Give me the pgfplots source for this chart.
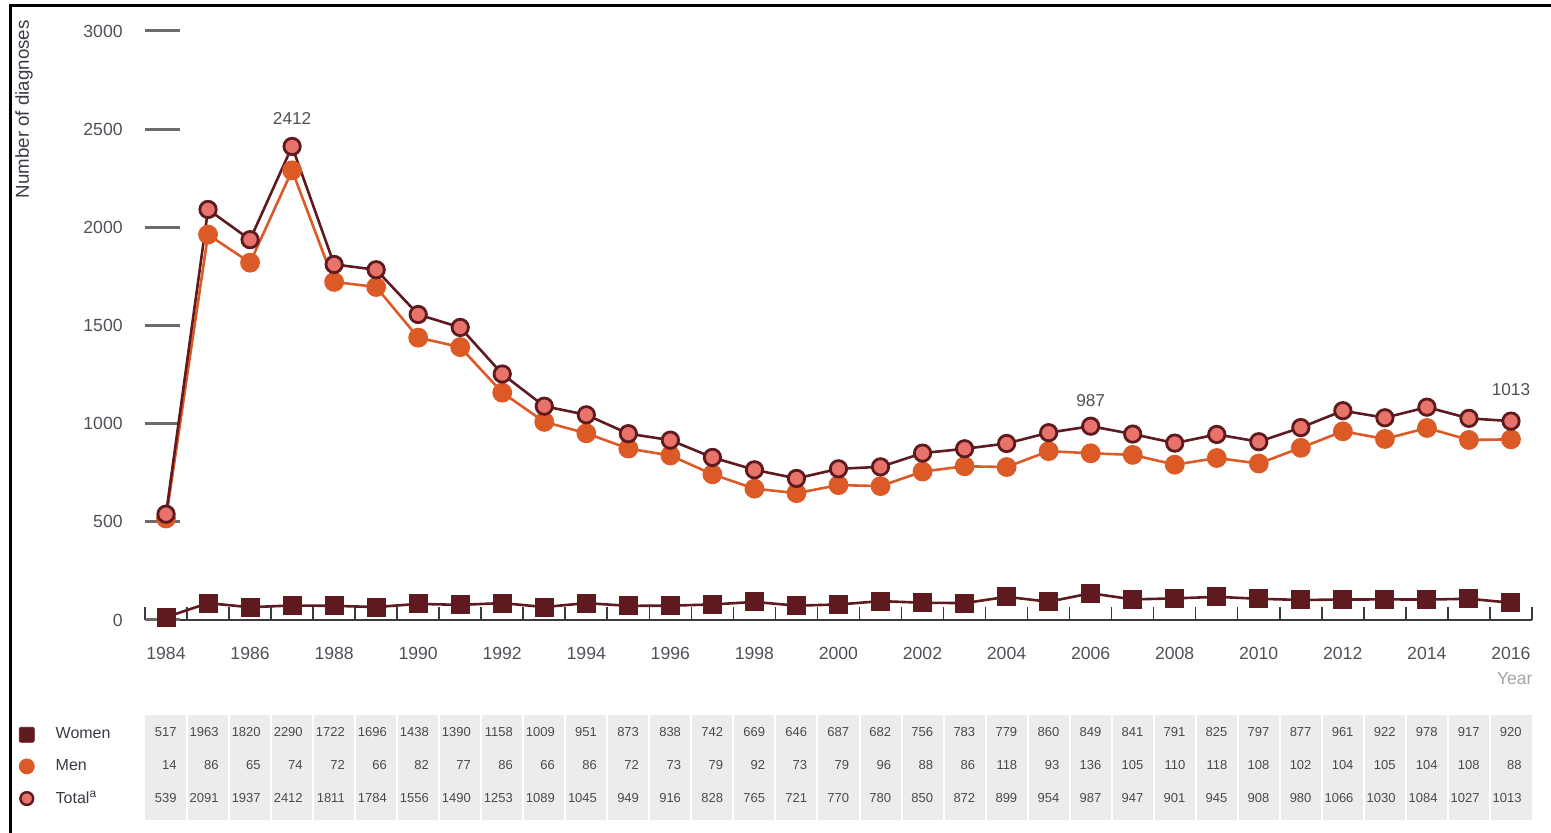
\documentclass[border=0pt]{standalone}
\usepackage{fontspec}
\setmainfont{Liberation Sans}
\usepackage{pgfplots}
\pgfplotsset{compat=1.18}
\usepackage{pgfplotstable}

\definecolor{maroon}{HTML}{5E1A1F}
\definecolor{orangeC}{HTML}{DB5A26}
\definecolor{salmon}{HTML}{E8736A}
\definecolor{labgray}{HTML}{505058}
\definecolor{ydash}{HTML}{6B6B6B}
\definecolor{tickdark}{HTML}{3A3A3A}
\definecolor{yeargray}{HTML}{A5A5A5}
\definecolor{tablegray}{HTML}{ECECED}
\definecolor{tabletext}{HTML}{4A4A4A}
\definecolor{darklab}{HTML}{3A3A45}

% rows as printed in the table under the chart
\pgfplotstableread{
year women men total
1984 517 14 539
1985 1963 86 2091
1986 1820 65 1937
1987 2290 74 2412
1988 1722 72 1811
1989 1696 66 1784
1990 1438 82 1556
1991 1390 77 1490
1992 1158 86 1253
1993 1009 66 1089
1994 951 86 1045
1995 873 72 949
1996 838 73 916
1997 742 79 828
1998 669 92 765
1999 646 73 721
2000 687 79 770
2001 682 96 780
2002 756 88 850
2003 783 86 872
2004 779 118 899
2005 860 93 954
2006 849 136 987
2007 841 105 947
2008 791 110 901
2009 825 118 945
2010 797 108 908
2011 877 102 980
2012 961 104 1066
2013 922 105 1030
2014 978 104 1084
2015 917 108 1027
2016 920 88 1013
}\data

\begin{document}
\begin{tikzpicture}[x=0.5pt,y=0.5pt]
\path[use as bounding box] (0,0) rectangle (1551,833);

\begin{axis}[
    at={(72.5pt,106.5pt)}, anchor=south west,
    scale only axis, width=693.5pt, height=294.5pt,
    xmin=1983.5, xmax=2016.5, ymin=0, ymax=3000,
    clip=false,
    axis x line*=bottom, axis y line*=left,
    axis line style={-},
    x axis line style={draw=tickdark, line width=1pt},
    y axis line style={draw=none},
    tick align=inside,
    major tick length=6.5pt,
    xtick={1983.5,1984.5,...,2016.5},
    xticklabels={1984,,1986,,1988,,1990,,1992,,1994,,1996,,1998,,2000,,2002,,2004,,2006,,2008,,2010,,2012,,2014,,2016,},
    xtick style={draw=tickdark, line width=0.8pt},
    xticklabel style={anchor=north, inner sep=0pt, xshift=10.5pt, yshift=-13.5pt},
    ytick=\empty,
    extra y ticks={0,500,...,3000},
    extra y tick style={major tick length=17.5pt, tick style={draw=ydash, line width=1.5pt}},
    yticklabel style={anchor=east, inner sep=0pt, xshift=-11pt},
    tick label style={font=\fontsize{8.8}{10}\selectfont, text=labgray},
    /pgf/number format/.cd, 1000 sep={}, assume math mode=true, /pgfplots/.cd,
    ylabel={Number of diagnoses},
    ylabel style={at={(axis description cs:-0.0873,1.0187)}, anchor=east, inner sep=0pt,
        font=\fontsize{9.35}{10}\selectfont, text=darklab},
    xlabel={Year},
    xlabel style={at={(axis description cs:1.0007,-0.0883)}, anchor=north east, inner sep=0pt,
        font=\fontsize{8.8}{10}\selectfont, text=yeargray},
]
\addplot[maroon, line width=1.3pt, mark=square*, mark size=4.5pt,
    mark options={fill=maroon, draw=maroon, line width=0.5pt, rounded corners=1pt}]
    table[x=year, y=men] {\data};
\addplot[orangeC, line width=1.3pt, mark=*, mark size=4.3pt,
    mark options={fill=orangeC, draw=orangeC}]
    table[x=year, y=women] {\data};
\addplot[maroon, line width=1.3pt, mark=*, mark size=4.1pt,
    mark options={fill=salmon, draw=maroon, line width=1.4pt}]
    table[x=year, y=total] {\data};

\node[anchor=south, inner sep=0pt, yshift=10.7pt, font=\fontsize{8.6}{10}\selectfont, text=labgray]
    at (axis cs:1987,2412) {2412};
\node[anchor=south, inner sep=0pt, yshift=9.5pt, font=\fontsize{8.6}{10}\selectfont, text=labgray]
    at (axis cs:2006,987) {987};
\node[anchor=south, inner sep=0pt, yshift=12.5pt, font=\fontsize{8.6}{10}\selectfont, text=labgray]
    at (axis cs:2016,1013) {1013};
\end{axis}

% data table under the chart
\begin{axis}[
    at={(72.5pt,6.5pt)}, anchor=south west,
    scale only axis, width=693.5pt, height=52.5pt,
    xmin=1983.5, xmax=2016.5, ymin=0, ymax=105,
    clip=false,
    axis line style={draw=none},
    ytick=\empty,
    xtick={1984.5,1985.5,...,2015.5}, xticklabels={},
    xtick style={draw=none},
    xmajorgrids, grid style={white, line width=1pt},
    axis background/.style={fill=tablegray},
    legend style={at={(axis description cs:-0.0912,0.92)}, anchor=north west,
        draw=none, fill=none, inner sep=0pt, row sep=4.8pt,
        font=\fontsize{8}{9}\selectfont, text=darklab,
        /tikz/every odd column/.append style={column sep=8.5pt}},
    legend cell align=left,
    nodes near coords style={anchor=east, inner sep=0pt, xshift=5.5pt,
        font=\fontsize{6.5}{7}\selectfont, text=tabletext},
]
\addlegendimage{legend image code/.code={\fill[maroon, rounded corners=1pt] (-3.75pt,-3.75pt) rectangle (3.75pt,3.75pt);}}
\addlegendentry{Women}
\addlegendimage{legend image code/.code={\fill[orangeC] (0,0) circle (3.75pt);}}
\addlegendentry{Men}
\addlegendimage{legend image code/.code={\filldraw[fill=salmon, draw=maroon, line width=1.2pt] (0,0) circle (3.2pt);}}
\addlegendentry{Total\textsuperscript{a}}

\addplot[forget plot, draw=none, mark=none, nodes near coords, point meta=explicit symbolic]
    table[x=year, y expr=88, meta=women] {\data};
\addplot[forget plot, draw=none, mark=none, nodes near coords, point meta=explicit symbolic]
    table[x=year, y expr=55, meta=men] {\data};
\addplot[forget plot, draw=none, mark=none, nodes near coords, point meta=explicit symbolic]
    table[x=year, y expr=22, meta=total] {\data};
\end{axis}

\draw[line width=1.35pt, black] (10.5,0) -- (10.5,827.5) -- (1551,827.5);
\end{tikzpicture}
\end{document}
